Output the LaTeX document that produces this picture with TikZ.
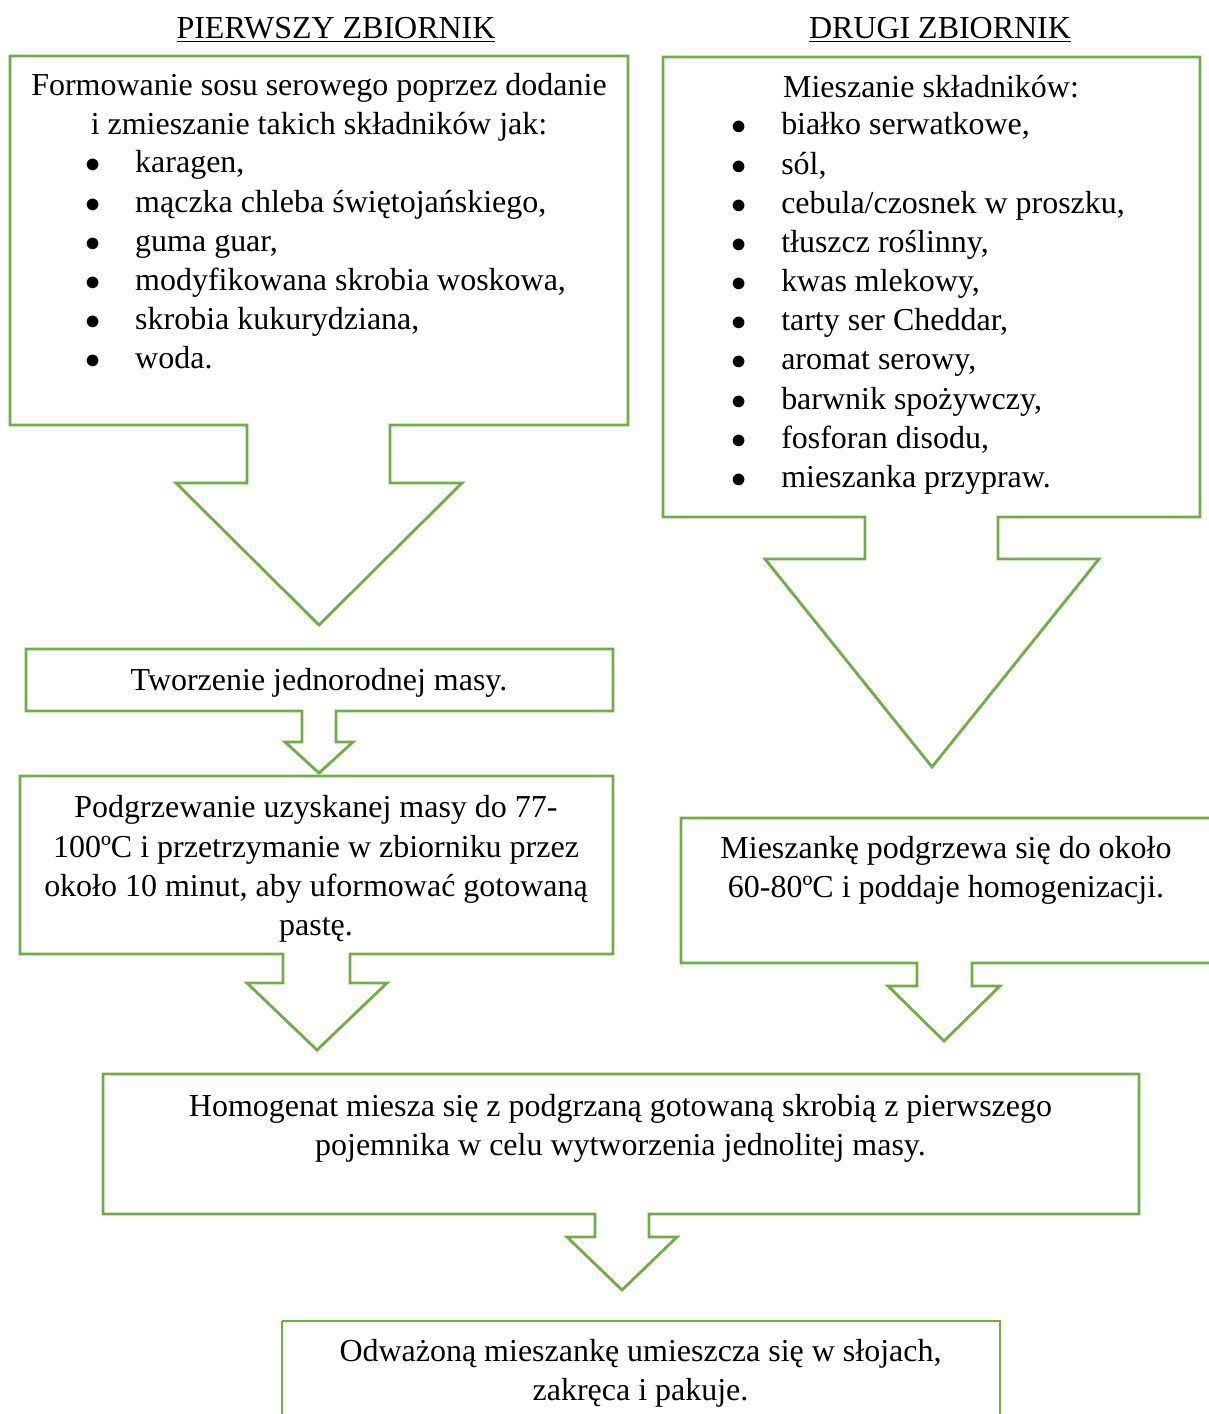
\documentclass[tikz,border=0pt]{standalone}
\usepackage{fontspec}
\setmainfont{Liberation Serif}
\usepackage{xcolor}
\usepackage{tikz}
\usetikzlibrary{positioning}
\definecolor{zielony}{HTML}{70AD47}
\newcommand{\pkt}{\makebox[28.4pt][l]{$\bullet$}}

\begin{document}
\begin{tikzpicture}[
x=0.02cm, y=-0.02cm,
Ramka/.style={draw=zielony,line width=1.6pt,line join=miter},
Tekst/.style={inner sep=0pt,align=center,font=\fontsize{18.2}{22.3}\selectfont},
Lista/.style={inner sep=0pt,align=left,anchor=west,font=\fontsize{18.2}{22.3}\selectfont}
]
\useasboundingbox (0,0) rectangle (1209,1414);
\clip (0,0) rectangle (1209,1414);

% pierwszy zbiornik
\draw[Ramka] (10,56) -- (628,56) -- (628,425) -- (390,425) -- (390,483) -- (462,483)
  -- (319,625) -- (176,483) -- (247,483) -- (247,425) -- (10,425) -- cycle;
% drugi zbiornik
\draw[Ramka] (663,57) -- (1200,57) -- (1200,517) -- (998,517) -- (998,559) -- (1099,559)
  -- (932,767) -- (765,559) -- (865,559) -- (865,517) -- (663,517) -- cycle;
\draw[Ramka] (26,649) -- (613,649) -- (613,711) -- (336,711) -- (336,742) -- (353,742)
  -- (319,773) -- (285,742) -- (302,742) -- (302,711) -- (26,711) -- cycle;
\draw[Ramka] (20,776) -- (613,776) -- (613,954) -- (350,954) -- (350,983) -- (387,983)
  -- (317,1050) -- (247,983) -- (283,983) -- (283,954) -- (20,954) -- cycle;
\draw[Ramka] (681,818) -- (1215,818) -- (1215,963) -- (972,963) -- (972,986) -- (1000,986)
  -- (944,1041) -- (888,986) -- (917,986) -- (917,963) -- (681,963) -- cycle;
\draw[Ramka] (103,1074) -- (1139,1074) -- (1139,1214) -- (649,1214) -- (649,1237) -- (677,1237)
  -- (622,1290) -- (567,1237) -- (595,1237) -- (595,1214) -- (103,1214) -- cycle;
\draw[Ramka] (282,1321) -- (1000,1321) -- (1000,1420) (282,1420) -- (282,1321);

% naglowki
\node[Tekst] (tytul1) at (336,30) {\underline{PIERWSZY ZBIORNIK}};
\node[Tekst] (tytul2) at (940,30) {\underline{DRUGI ZBIORNIK}};

\node[Tekst] (opis1) at (319,107) {Formowanie sosu serowego poprzez dodanie\\
  i zmieszanie takich składników jak:};
\node[Lista] (lista1) at (85,260) {\pkt karagen,\\ \pkt mączka chleba świętojańskiego,\\
  \pkt guma guar,\\ \pkt modyfikowana skrobia woskowa,\\ \pkt skrobia kukurydziana,\\ \pkt woda.};

\node[Tekst] (opis2) at (931,87) {Mieszanie składników:};
\node[Lista] (lista2) at (731,303.5) {\pkt białko serwatkowe,\\ \pkt sól,\\
  \pkt cebula/czosnek w proszku,\\ \pkt tłuszcz roślinny,\\ \pkt kwas mlekowy,\\
  \pkt tarty ser Cheddar,\\ \pkt aromat serowy,\\ \pkt barwnik spożywczy,\\
  \pkt fosforan disodu,\\ \pkt mieszanka przypraw.};

% kolejne etapy
\node[Tekst] (etap1) at (319,683) {Tworzenie jednorodnej masy.};
\node[Tekst] (etap2) at (316,869) {Podgrzewanie uzyskanej masy do 77-\\
  100ºC i przetrzymanie w zbiorniku przez\\ około 10 minut, aby uformować gotowaną\\ pastę.};
\node[Tekst] (etap3) at (946,870.5) {Mieszankę podgrzewa się do około\\
  60-80ºC i poddaje homogenizacji.};
\node[Tekst] (etap4) at (620.5,1128) {Homogenat miesza się z podgrzaną gotowaną skrobią z pierwszego\\
  pojemnika w celu wytworzenia jednolitej masy.};
\node[Tekst] (etap5) at (640.5,1373) {Odważoną mieszankę umieszcza się w słojach,\\
  zakręca i pakuje.};

\end{tikzpicture}
\end{document}
